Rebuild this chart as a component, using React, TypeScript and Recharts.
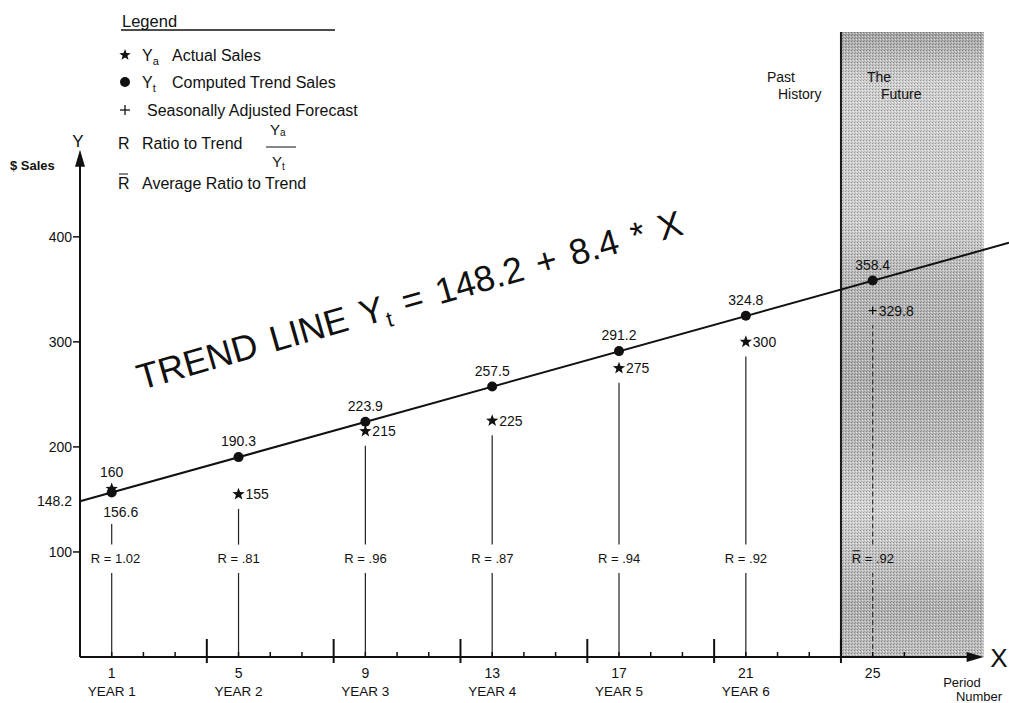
import {
  ComposedChart,
  XAxis,
  YAxis,
  Scatter,
  ReferenceLine,
  ReferenceArea,
} from "recharts";

// values
const periods = [1, 5, 9, 13, 17, 21];
const yearLabels = ["YEAR 1", "YEAR 2", "YEAR 3", "YEAR 4", "YEAR 5", "YEAR 6"];
const actualSales = [160, 155, 215, 225, 275, 300];
const trendSales = [156.6, 190.3, 223.9, 257.5, 291.2, 324.8];
const ratios = [1.02, 0.81, 0.96, 0.87, 0.94, 0.92];

const forecastPeriod = 25;
const forecastTrend = 358.4;
const forecastSales = 329.8;
const averageRatio = 0.92;

const trendIntercept = 148.2;
const trendSlope = 8.4;

const yTicks = [100, 148.2, 200, 300, 400];
const periodTicks = [1, 2, 3, 4, 5, 6, 7, 8, 9, 10, 11, 12, 13, 14, 15, 16, 17, 18, 19, 20, 21, 22, 23, 24, 25, 26];
const majorTicks = [4, 8, 12, 16, 20, 24];
const labeledTicks = [1, 5, 9, 13, 17, 21, 25];

// layout
const W = 1001;
const H = 695;
const X_MAX = 29.3;
const Y_MAX = 595;
const AXIS_END = 28.5;
const Y_ARROW = 483;
const FUTURE_START = 24;
const RATIO_ROW = 94;
const GAP_LOW = 80;
const GAP_HIGH = 107;

const FONT = '"Liberation Sans", Arial, Helvetica, sans-serif';
const INK = "#111";

const trendPoints = periods
  .map((p, i) => ({ x: p, y: trendSales[i], below: actualSales[i] > trendSales[i] }))
  .concat([{ x: forecastPeriod, y: forecastTrend, below: false }]);
const actualPoints = periods.map((p, i) => ({ x: p, y: actualSales[i], above: actualSales[i] > trendSales[i] }));
const forecastPoints = [{ x: forecastPeriod, y: forecastSales }];
const ratioPoints = periods
  .map((p, i) => ({ x: p, y: RATIO_ROW, r: ratios[i], avg: false }))
  .concat([{ x: forecastPeriod, y: RATIO_ROW, r: averageRatio, avg: true }]);

const dropSegments = periods
  .flatMap((p, i) => {
    const a = actualSales[i];
    const t = trendSales[i];
    const top = Math.min(a, t) - (a > t ? 30 : 14);
    return [
      { x: p, from: 0, to: GAP_LOW, dashed: false },
      { x: p, from: GAP_HIGH, to: top, dashed: false },
    ];
  })
  .concat([
    { x: forecastPeriod, from: 0, to: GAP_LOW, dashed: true },
    { x: forecastPeriod, from: GAP_HIGH, to: forecastSales - 14, dashed: true },
  ]);

const fmtRatio = (r: number) => r.toFixed(2).replace(/^0/, "");

function starPoints(cx: number, cy: number, R = 6.5, r = 2.7) {
  const pts: string[] = [];
  for (let k = 0; k < 10; k++) {
    const ang = -Math.PI / 2 + (k * Math.PI) / 5;
    const rad = k % 2 === 0 ? R : r;
    pts.push(`${cx + rad * Math.cos(ang)},${cy + rad * Math.sin(ang)}`);
  }
  return pts.join(" ");
}

const TrendDot = ({ cx, cy, payload }: any) => (
  <g>
    <circle cx={cx} cy={cy} r={5} fill={INK} />
    <text
      x={payload.below ? cx + 9 : cx}
      y={payload.below ? cy + 24 : cy - 11}
      textAnchor="middle"
      fontSize={14}
      fontFamily={FONT}
      fill={INK}
    >
      {payload.y.toFixed(1)}
    </text>
  </g>
);

const ActualStar = ({ cx, cy, payload }: any) => (
  <g>
    <polygon points={starPoints(cx, cy)} fill={INK} />
    {payload.above ? (
      <text x={cx} y={cy - 12} textAnchor="middle" fontSize={14} fontFamily={FONT} fill={INK}>
        {payload.y}
      </text>
    ) : (
      <text x={cx + 7} y={cy + 5} textAnchor="start" fontSize={14} fontFamily={FONT} fill={INK}>
        {payload.y}
      </text>
    )}
  </g>
);

const ForecastPlus = ({ cx, cy, payload }: any) => (
  <g>
    <line x1={cx - 4} x2={cx + 4} y1={cy} y2={cy} stroke={INK} strokeWidth={1.3} />
    <line x1={cx} x2={cx} y1={cy - 4} y2={cy + 4} stroke={INK} strokeWidth={1.3} />
    <text x={cx + 6} y={cy + 5} fontSize={14} fontFamily={FONT} fill={INK}>
      {payload.y}
    </text>
  </g>
);

const RatioMark = ({ cx, cy, payload }: any) => {
  const start = cx - 21;
  return (
    <g>
      <text x={start} y={cy + 5} fontSize={13} fontFamily={FONT} fill={INK}>
        {`R = ${fmtRatio(payload.r)}`}
      </text>
      {payload.avg && (
        <line x1={start + 1} x2={start + 8.5} y1={cy - 7.5} y2={cy - 7.5} stroke={INK} strokeWidth={1} />
      )}
    </g>
  );
};

const XTick = ({ x, y, payload }: any) => {
  const v = payload.value;
  const major = majorTicks.includes(v);
  const idx = labeledTicks.indexOf(v);
  return (
    <g>
      <line
        x1={x}
        x2={x}
        y1={major ? y - 18 : y - 5}
        y2={major ? y + 6 : y}
        stroke={INK}
        strokeWidth={major ? 2 : 1.5}
      />
      {idx >= 0 && (
        <text x={x} y={y + 21} textAnchor="middle" fontSize={14} fontFamily={FONT} fill={INK}>
          {v}
        </text>
      )}
      {idx >= 0 && yearLabels[idx] && (
        <text x={x} y={y + 39} textAnchor="middle" fontSize={13.5} fontFamily={FONT} fill={INK}>
          {yearLabels[idx]}
        </text>
      )}
    </g>
  );
};

const YTick = ({ x, y, payload }: any) => (
  <g>
    {payload.value !== trendIntercept && (
      <line x1={x - 7} x2={x} y1={y} y2={y} stroke={INK} strokeWidth={1.5} />
    )}
    <text x={x - 8} y={y + 5} textAnchor="end" fontSize={14} fontFamily={FONT} fill={INK}>
      {payload.value}
    </text>
  </g>
);

// axis line with an arrow head at its end
const ArrowLine = (props: any) => {
  const { x1, y1, x2, y2 } = props;
  const dx = x2 - x1;
  const dy = y2 - y1;
  const len = Math.hypot(dx, dy) || 1;
  const ux = dx / len;
  const uy = dy / len;
  const L = 17;
  const Wd = 5;
  const bx = x2 - ux * L;
  const by = y2 - uy * L;
  return (
    <g>
      <line x1={x1} y1={y1} x2={bx + ux * 4} y2={by + uy * 4} stroke={INK} strokeWidth={2} />
      <polygon
        points={`${x2},${y2} ${bx - uy * Wd},${by + ux * Wd} ${bx + uy * Wd},${by - ux * Wd}`}
        fill={INK}
      />
    </g>
  );
};

const EraLabel = ({ viewBox }: any) => {
  const vx = viewBox?.x ?? 834;
  const vy = viewBox?.y ?? 24;
  const t = { fontSize: 14, fontFamily: FONT, fill: INK };
  return (
    <g>
      <text x={vx - 74} y={vy + 50} {...t}>Past</text>
      <text x={vx - 63} y={vy + 67} {...t}>History</text>
      <text x={vx + 26} y={vy + 50} {...t}>The</text>
      <text x={vx + 40} y={vy + 67} {...t}>Future</text>
    </g>
  );
};

const Annotations = () => {
  const t = { fontFamily: FONT, fill: INK };
  const fs = 16;
  return (
    <svg
      width={W}
      height={H}
      style={{ position: "absolute", left: 0, top: 0, pointerEvents: "none" }}
    >
      {/* legend */}
      <text x={114} y={19} fontSize={16.5} {...t}>Legend</text>
      <line x1={113} x2={327} y1={22} y2={22} stroke={INK} strokeWidth={1.5} />

      <polygon points={starPoints(117, 47, 6, 2.5)} fill={INK} />
      <text x={134} y={53} fontSize={fs} {...t}>
        Y<tspan fontSize={11} dy={4}>a</tspan>
      </text>
      <text x={164} y={53} fontSize={fs} {...t}>Actual Sales</text>

      <circle cx={117} cy={74} r={5} fill={INK} />
      <text x={134} y={80} fontSize={fs} {...t}>
        Y<tspan fontSize={11} dy={4}>t</tspan>
      </text>
      <text x={164} y={80} fontSize={fs} {...t}>Computed Trend Sales</text>

      <line x1={112} x2={122} y1={102} y2={102} stroke={INK} strokeWidth={1.3} />
      <line x1={117} x2={117} y1={97} y2={107} stroke={INK} strokeWidth={1.3} />
      <text x={139} y={108} fontSize={fs} {...t}>Seasonally Adjusted Forecast</text>

      <text x={110} y={141} fontSize={fs} {...t}>R</text>
      <text x={134} y={141} fontSize={fs} {...t}>Ratio to Trend</text>
      <text x={262} y={127} fontSize={15} {...t}>
        Y<tspan fontSize={10} dy={1}>a</tspan>
      </text>
      <line x1={258} x2={288} y1={139} y2={139} stroke={INK} strokeWidth={1} />
      <text x={264} y={159} fontSize={15} {...t}>
        Y<tspan fontSize={10} dy={3}>t</tspan>
      </text>

      <text x={110} y={181} fontSize={fs} {...t}>R</text>
      <line x1={111} x2={120} y1={166} y2={166} stroke={INK} strokeWidth={1} />
      <text x={134} y={181} fontSize={fs} {...t}>Average Ratio to Trend</text>

      {/* axis titles */}
      <text x={70} y={139} fontSize={17} textAnchor="middle" {...t}>Y</text>
      <text x={2} y={162} fontSize={13} fontWeight="bold" {...t}>$ Sales</text>
      <text x={991} y={659} fontSize={26} textAnchor="middle" {...t}>X</text>
      <text x={954} y={679} fontSize={13} textAnchor="middle" {...t}>Period</text>
      <text x={971} y={693} fontSize={13} textAnchor="middle" {...t}>Number</text>

      {/* trend equation */}
      <text x={133} y={382} transform="rotate(-16 133 382)" fontSize={36} wordSpacing={4} {...t}>
        TREND LINE Y<tspan fontSize={22} dy={8}>t</tspan>
        <tspan dy={-8}> = 148.2 + 8.4 * X</tspan>
      </text>
    </svg>
  );
};

export default function App() {
  return (
    <div style={{ position: "relative", width: 1009, height: 703, overflow: "hidden" }}>
      <style>{"body{margin:0}"}</style>
      <div style={{ position: "absolute", left: 8, top: 8, width: W, height: H }}>
        <ComposedChart width={W} height={H} margin={{ top: 24, right: 0, bottom: 0, left: 0 }}>
          <defs>
            <linearGradient id="futureShade" x1="0" y1="0" x2="0" y2="1">
              <stop offset="0%" stopColor="#a4a4a4" />
              <stop offset="4%" stopColor="#bdbdbd" />
              <stop offset="8%" stopColor="#d2d2d2" />
              <stop offset="30%" stopColor="#cfcfcf" />
              <stop offset="40%" stopColor="#b9b9b9" />
              <stop offset="55%" stopColor="#aeaeae" />
              <stop offset="66%" stopColor="#bcbcbc" />
              <stop offset="76%" stopColor="#d6d6d6" />
              <stop offset="84%" stopColor="#c4c4c4" />
              <stop offset="92%" stopColor="#b2b2b2" />
              <stop offset="100%" stopColor="#c0c0c0" />
            </linearGradient>
            <pattern id="halftone" width="3" height="3" patternUnits="userSpaceOnUse">
              <rect x="0" y="0" width="1" height="1" fill="#000" fillOpacity="0.3" />
              <rect x="2" y="1" width="1" height="1" fill="#fff" fillOpacity="0.55" />
              <rect x="1" y="2" width="1" height="1" fill="#000" fillOpacity="0.15" />
            </pattern>
          </defs>
          <XAxis
            type="number"
            dataKey="x"
            domain={[0, X_MAX]}
            allowDataOverflow
            ticks={periodTicks}
            interval={0}
            tick={<XTick />}
            tickLine={false}
            axisLine={false}
            tickSize={0}
            tickMargin={0}
            height={46}
          />
          <YAxis
            type="number"
            dataKey="y"
            domain={[0, Y_MAX]}
            allowDataOverflow
            ticks={yTicks}
            interval={0}
            tick={<YTick />}
            tickLine={false}
            axisLine={false}
            tickSize={0}
            tickMargin={0}
            width={72}
          />
          <ReferenceArea
            x1={FUTURE_START}
            x2={AXIS_END}
            y1={0}
            y2={Y_MAX}
            fill="url(#futureShade)"
            fillOpacity={1}
            stroke="none"
          />
          <ReferenceArea
            x1={FUTURE_START}
            x2={AXIS_END}
            y1={0}
            y2={Y_MAX}
            fill="url(#halftone)"
            fillOpacity={1}
            stroke="none"
          />
          <ReferenceLine x={FUTURE_START} stroke="#1a1a1a" strokeWidth={2} label={<EraLabel />} />
          {dropSegments.map((s, i) => (
            <ReferenceLine
              key={`drop-${i}`}
              segment={[
                { x: s.x, y: s.from },
                { x: s.x, y: s.to },
              ]}
              stroke={s.dashed ? "#333" : "#222"}
              strokeWidth={1.2}
              strokeDasharray={s.dashed ? "5 3" : undefined}
            />
          ))}
          <ReferenceLine
            segment={[
              { x: 0, y: trendIntercept },
              { x: X_MAX, y: trendIntercept + trendSlope * X_MAX },
            ]}
            stroke={INK}
            strokeWidth={2}
          />
          <ReferenceLine
            segment={[
              { x: 0, y: 0 },
              { x: AXIS_END, y: 0 },
            ]}
            shape={ArrowLine}
          />
          <ReferenceLine
            segment={[
              { x: 0, y: 0 },
              { x: 0, y: Y_ARROW },
            ]}
            shape={ArrowLine}
          />
          <Scatter data={ratioPoints} shape={RatioMark} isAnimationActive={false} />
          <Scatter data={trendPoints} shape={TrendDot} isAnimationActive={false} />
          <Scatter data={actualPoints} shape={ActualStar} isAnimationActive={false} />
          <Scatter data={forecastPoints} shape={ForecastPlus} isAnimationActive={false} />
        </ComposedChart>
        <Annotations />
      </div>
    </div>
  );
}
